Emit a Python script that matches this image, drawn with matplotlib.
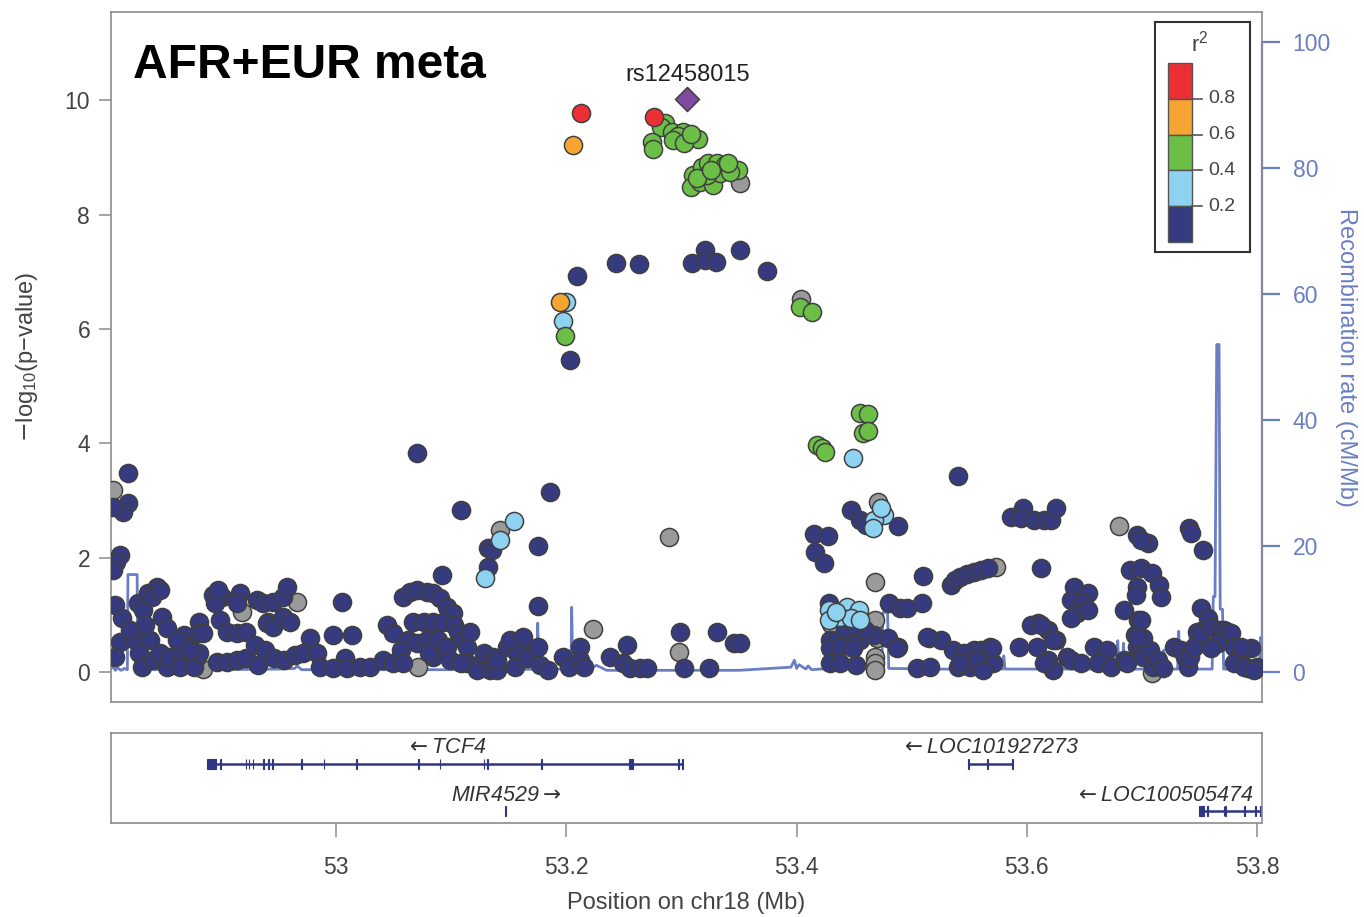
#!/usr/bin/env python3
"""Regional association plot (LocusZoom style) for the TCF4 locus, AFR+EUR meta."""

import matplotlib
matplotlib.use("Agg")
import matplotlib.pyplot as plt
from matplotlib.patches import Rectangle

plt.rcParams["font.family"] = ["Liberation Sans", "DejaVu Sans"]

# --- association results (position in Mb, -log10 p), grouped by LD r2 bin ---
lead_pos = [53.305]
lead_p = [10.02]
lead_name = "rs12458015"

red_pos = [53.213, 53.276]
red_p = [9.77, 9.70]

orange_pos = [53.206, 53.194]
orange_p = [9.21, 6.47]

green_pos = [53.286, 53.282, 53.292, 53.301, 53.297, 53.314, 53.293, 53.302, 53.274, 53.275, 53.308,
             53.310, 53.318, 53.323, 53.331, 53.338, 53.349, 53.308, 53.316, 53.327, 53.333, 53.322,
             53.342, 53.313, 53.326, 53.340,
             53.199, 53.403, 53.413, 53.418, 53.422, 53.425, 53.455, 53.462, 53.458, 53.462]
green_p = [9.60, 9.53, 9.44, 9.44, 9.37, 9.32, 9.30, 9.25, 9.27, 9.14, 9.41,
           8.69, 8.83, 8.90, 8.90, 8.86, 8.78, 8.48, 8.57, 8.51, 8.72, 8.69,
           8.74, 8.64, 8.78, 8.90,
           5.87, 6.38, 6.29, 3.97, 3.92, 3.85, 4.53, 4.51, 4.18, 4.21]

lblue_pos = [53.200, 53.197, 53.449, 53.129, 53.142, 53.154, 53.476, 53.467, 53.466, 53.473,
             53.428, 53.444, 53.454, 53.438, 53.447, 53.455, 53.428, 53.434]
lblue_p = [6.47, 6.14, 3.74, 1.64, 2.31, 2.64, 2.74, 2.66, 2.52, 2.87,
           1.08, 1.14, 1.08, 0.96, 0.94, 0.91, 0.91, 1.05]

grey_pos = [53.351, 53.404, 52.806, 52.966, 52.918, 52.941, 53.142, 53.289, 53.223, 53.298,
            53.471, 53.468, 53.468, 53.468, 53.468, 53.468, 53.680, 53.573, 53.071, 53.709,
            53.430, 53.470, 52.884]
grey_p = [8.55, 6.52, 3.18, 1.22, 1.05, 0.87, 2.48, 2.36, 0.75, 0.35,
          2.97, 1.57, 0.91, 0.26, 0.16, 0.03, 2.55, 1.84, 0.09, -0.02,
          0.85, 0.60, 0.05]

navy_pos = [
    # upper arch
    53.209, 53.243, 53.263, 53.309, 53.320, 53.320, 53.330, 53.351, 53.374, 53.203,
    # scattered middle
    52.819, 52.819, 52.815, 52.806, 52.812, 52.809, 52.806, 53.070, 53.108, 53.092,
    53.132, 53.132, 53.135, 53.186, 53.175, 53.175, 53.540, 53.447, 53.455, 53.460,
    53.488, 53.415, 53.427, 53.416, 53.424, 53.586, 53.597, 53.595, 53.606, 53.615,
    53.621, 53.625, 53.696, 53.705, 53.741, 53.743, 53.753, 53.699,
    # 1 - 2 band, right half
    53.510, 53.534, 53.538, 53.542, 53.548, 53.554, 53.560, 53.566, 53.612, 53.690,
    53.699, 53.709, 53.715, 53.696, 53.695, 53.717, 53.684, 53.697, 53.641, 53.653,
    53.638, 53.649, 53.644, 53.638, 53.653, 53.751, 53.757, 53.753, 53.748, 53.480,
    53.490, 53.496, 53.509, 53.428, 53.610, 53.618, 53.625,
    # left cluster
    52.828, 52.832, 52.836, 52.844, 52.840, 52.847, 52.808, 52.814, 52.812, 52.808,
    52.825, 52.838, 52.849, 52.853, 52.829, 52.831, 52.841, 52.853, 52.847, 52.855,
    52.866, 52.868, 52.873, 52.881, 52.880, 52.884, 52.879, 52.864, 52.876, 52.862,
    52.881, 52.873, 52.821, 52.834,
    52.893, 52.901, 52.895, 52.897, 52.916, 52.914, 52.931, 52.936, 52.945, 52.954,
    52.957, 52.899, 52.905, 52.914, 52.922, 52.940, 52.945, 52.954, 52.960, 52.896,
    52.905, 52.914, 52.922, 52.929, 52.938, 52.946, 52.955, 52.964, 52.932,
    # 53.0 - 53.14
    52.977, 52.971, 52.983, 52.986, 52.997, 53.014, 53.005, 53.008, 52.997, 53.009,
    53.021, 53.029, 53.041, 53.049, 53.044, 53.049, 53.058, 53.064, 53.070, 53.079,
    53.084, 53.090, 53.096, 53.101, 53.067, 53.076, 53.084, 53.093, 53.102, 53.106,
    53.110, 53.114, 53.062, 53.070, 53.079, 53.088, 53.096, 53.084, 53.099, 53.114,
    53.128, 53.122, 53.116, 53.128, 53.136, 53.134, 53.056, 53.058, 53.081, 53.108,
    53.140,
    # 53.14 - 53.35 bottom
    53.148, 53.160, 53.157, 53.140, 53.155, 53.166, 53.175, 53.177, 53.184, 53.197,
    53.202, 53.212, 53.212, 53.215, 53.151, 53.162, 53.238, 53.253, 53.249, 53.255,
    53.264, 53.270, 53.299, 53.302, 53.324, 53.331, 53.346, 53.351,
    # 53.42 - 53.57 bottom
    53.429, 53.435, 53.447, 53.455, 53.467, 53.479, 53.488, 53.429, 53.438, 53.449,
    53.429, 53.438, 53.452, 53.505, 53.516, 53.515, 53.525, 53.536, 53.545, 53.554,
    53.551, 53.540, 53.487, 53.513, 53.560, 53.568, 53.571, 53.542, 53.442, 53.459,
    53.451,
    # 53.55 - 53.80 bottom
    53.557, 53.562, 53.570, 53.593, 53.609, 53.618, 53.623, 53.615, 53.635, 53.638,
    53.647, 53.658, 53.670, 53.662, 53.673, 53.684, 53.687, 53.696, 53.701, 53.701,
    53.707, 53.710, 53.714, 53.718, 53.694, 53.701, 53.696, 53.699, 53.728, 53.734,
    53.737, 53.740, 53.742, 53.745, 53.751, 53.760, 53.768, 53.771, 53.775, 53.777,
    53.766, 53.780, 53.760, 53.786, 53.795, 53.780, 53.792, 53.800, 53.789, 53.797,
    53.786, 53.623, 53.604, 53.612,
]
navy_p = [
    6.92, 7.15, 7.13, 7.15, 7.38, 7.20, 7.17, 7.38, 7.01, 5.45,
    3.48, 2.95, 2.80, 2.88, 2.05, 1.92, 1.78, 3.83, 2.83, 1.70,
    1.84, 2.17, 2.13, 3.15, 2.20, 1.15, 3.43, 2.83, 2.66, 2.57,
    2.55, 2.41, 2.38, 2.10, 1.91, 2.71, 2.87, 2.69, 2.66, 2.66,
    2.66, 2.87, 2.40, 2.26, 2.52, 2.43, 2.13, 2.31,
    1.68, 1.52, 1.61, 1.66, 1.71, 1.75, 1.78, 1.82, 1.82, 1.78,
    1.82, 1.73, 1.52, 1.49, 1.35, 1.31, 1.08, 0.91, 1.49, 1.38,
    1.26, 1.21, 1.03, 0.94, 1.08, 1.12, 0.94, 0.73, 0.70, 1.21,
    1.12, 1.12, 1.21, 1.21, 0.86, 0.73, 0.56,
    1.21, 1.08, 1.38, 1.49, 1.31, 1.43, 1.17, 0.94, 0.52, 0.26,
    0.56, 0.56, 0.96, 0.77, 0.33, 0.09, 0.21, 0.09, 0.33, 0.26,
    0.33, 0.65, 0.44, 0.87, 0.68, 0.68, 0.26, 0.09, 0.09, 0.56,
    0.33, 0.38, 0.73, 0.82,
    1.35, 1.31, 1.21, 1.43, 1.38, 1.21, 1.26, 1.21, 1.22, 1.31,
    1.49, 0.91, 0.70, 0.68, 0.70, 0.86, 0.79, 0.96, 0.87, 0.17,
    0.17, 0.21, 0.24, 0.47, 0.38, 0.24, 0.21, 0.30, 0.12,
    0.59, 0.33, 0.33, 0.09, 0.65, 0.65, 1.22, 0.24, 0.07, 0.07,
    0.09, 0.09, 0.21, 0.16, 0.82, 0.68, 1.31, 1.40, 1.43, 1.40,
    1.38, 1.29, 1.14, 1.03, 0.87, 0.87, 0.87, 0.87, 0.82, 0.70,
    0.56, 0.44, 0.56, 0.51, 0.56, 0.56, 0.44, 0.26, 0.21, 0.16,
    0.26, 0.03, 0.70, 0.33, 0.26, 0.03, 0.38, 0.16, 0.33, 0.16,
    0.03,
    0.44, 0.51, 0.33, 0.21, 0.09, 0.24, 0.44, 0.12, 0.03, 0.26,
    0.09, 0.44, 0.21, 0.09, 0.56, 0.61, 0.26, 0.47, 0.16, 0.07,
    0.07, 0.07, 0.70, 0.07, 0.07, 0.70, 0.51, 0.51,
    0.56, 0.56, 0.59, 0.56, 0.65, 0.59, 0.44, 0.42, 0.44, 0.42,
    0.16, 0.16, 0.12, 0.07, 0.09, 0.59, 0.56, 0.38, 0.33, 0.38,
    0.09, 0.09, 0.42, 0.61, 0.38, 0.44, 0.16, 0.16, 0.77, 0.73,
    0.82,
    0.21, 0.03, 0.42, 0.44, 0.44, 0.21, 0.03, 0.16, 0.26, 0.21,
    0.16, 0.44, 0.38, 0.16, 0.09, 0.21, 0.16, 0.44, 0.38, 0.26,
    0.38, 0.09, 0.21, 0.07, 0.65, 0.59, 0.61, 0.91, 0.44, 0.38,
    0.26, 0.09, 0.26, 0.44, 0.68, 0.79, 0.73, 0.73, 0.70, 0.68,
    0.51, 0.44, 0.42, 0.33, 0.42, 0.16, 0.07, 0.09, 0.09, 0.03,
    0.44, 0.56, 0.82, 0.82,
]

# --- recombination rate (cM/Mb) ---
recomb_pos = [52.804, 52.806, 52.808, 52.810, 52.813, 52.816, 52.8185, 52.819, 52.827, 52.8275,
              52.850, 52.900, 52.950, 52.964, 52.966, 52.970, 53.000, 53.050, 53.100, 53.150,
              53.1745, 53.175, 53.176, 53.204, 53.2045, 53.2055, 53.220, 53.226, 53.235, 53.300,
              53.350, 53.395, 53.398, 53.400, 53.402, 53.408, 53.410, 53.413, 53.420, 53.474,
              53.475, 53.479, 53.480, 53.520, 53.579, 53.580, 53.581, 53.630, 53.631, 53.632,
              53.660, 53.661, 53.662, 53.678, 53.679, 53.680, 53.683, 53.684, 53.685, 53.718,
              53.719, 53.720, 53.731, 53.732, 53.733, 53.741, 53.742, 53.743, 53.761, 53.762,
              53.7635, 53.765, 53.767, 53.768, 53.770, 53.771, 53.790, 53.802, 53.803, 53.804]
recomb_rate = [0.5, 1.0, 0.3, 0.7, 0.3, 0.6, 0.4, 15.5, 15.5, 0.5,
               0.4, 0.4, 0.5, 0.6, 1.0, 0.4, 0.4, 0.4, 0.4, 0.4,
               0.5, 7.8, 0.5, 0.5, 10.3, 0.5, 0.4, 1.1, 0.3, 0.3,
               0.3, 0.8, 1.9, 0.6, 1.2, 0.5, 1.0, 0.4, 0.5, 0.6,
               9.5, 9.5, 0.6, 0.5, 0.5, 2.6, 0.5, 0.5, 4.0, 0.5,
               0.5, 4.0, 0.5, 0.5, 5.0, 0.5, 0.5, 4.6, 0.5, 0.5,
               3.5, 0.5, 0.5, 6.5, 0.5, 0.5, 7.0, 0.5, 0.5, 12.0,
               12.0, 52.0, 52.0, 10.0, 10.0, 0.5, 0.5, 0.5, 5.5, 0.5]

# --- genes ---
tcf4_exons = [(52.8881, 52.8953), (52.8988, 52.8998), (52.9213, 52.9220), (52.9238, 52.9245),
              (52.9273, 52.9280), (52.9366, 52.9373), (52.9408, 52.9415), (52.9444, 52.9451),
              (52.9693, 52.9700), (52.9890, 52.9897), (53.0174, 53.0181), (53.0709, 53.0716),
              (53.0898, 53.0905), (53.1280, 53.1287), (53.1308, 53.1315), (53.1779, 53.1786),
              (53.2545, 53.2580), (53.2971, 53.2978), (53.3008, 53.3015)]
loc27273_exons = [(53.5487, 53.5499), (53.5657, 53.5664), (53.5871, 53.5878)]
loc05474_exons = [(53.7500, 53.7540), (53.7568, 53.7575), (53.7710, 53.7717), (53.7720, 53.7727),
                  (53.7890, 53.7897), (53.7980, 53.7987), (53.8025, 53.8032)]
mir_exons = [(53.1470, 53.1475)]
LEFT = r"$\leftarrow$"
RIGHT = r"$\rightarrow$"
genes = [
    (LEFT + "TCF4", 52.8881, 53.3015, tcf4_exons, 0),
    (LEFT + "LOC101927273", 53.5487, 53.5878, loc27273_exons, 0),
    ("MIR4529" + RIGHT, 53.1470, 53.1475, mir_exons, 1),
    (LEFT + "LOC100505474", 53.7500, 53.8100, loc05474_exons, 1),
]

xlim = (52.8043, 53.8043)
colors = {
    "grey": "#9A9A9A", "navy": "#363A7E", "lblue": "#8ED2F2", "green": "#6BBE46",
    "orange": "#F7A532", "red": "#EC2F35", "lead": "#7D4CA2",
}
recomb_color = "#6A7EC4"
frame_color = "#8C8C8C"
text_color = "#444444"

fig = plt.figure(figsize=(13.64, 9.17), dpi=100)

# ---------- association panel ----------
ax = fig.add_axes([0.0814, 0.2345, 0.8438, 0.7524])
ax2 = ax.twinx()
ax.set_zorder(ax2.get_zorder() + 1)
ax.patch.set_visible(False)

units_per_100cm = 11.014
ax.set_xlim(*xlim)
ax.set_ylim(-0.52, 11.54)
ax2.set_ylim(-0.52 * 100 / units_per_100cm, 11.54 * 100 / units_per_100cm)

ax2.plot(recomb_pos, recomb_rate, color=recomb_color, lw=2.0, zorder=1)

sc = dict(s=170, edgecolors="#404040", linewidths=1.1, zorder=3)
ax.scatter(grey_pos, grey_p, c=colors["grey"], **sc)
ax.scatter(navy_pos, navy_p, c=colors["navy"], **sc)
ax.scatter(lblue_pos, lblue_p, c=colors["lblue"], **sc)
ax.scatter(green_pos, green_p, c=colors["green"], **sc)
ax.scatter(orange_pos, orange_p, c=colors["orange"], **sc)
ax.scatter(red_pos, red_p, c=colors["red"], **sc)
ax.scatter(lead_pos, lead_p, c=colors["lead"], marker="D", s=150, edgecolors="#404040",
           linewidths=1.1, zorder=4)
ax.text(lead_pos[0], lead_p[0] + 0.22, lead_name, ha="center", va="bottom", fontsize=17,
        color="#222222")

ax.text(0.019, 0.955, "AFR+EUR meta", transform=ax.transAxes, ha="left", va="top",
        fontsize=34.5, fontweight="bold", color="black")

for s in ax.spines.values():
    s.set_color(frame_color)
    s.set_linewidth(1.2)
ax.set_xticks([])
ax.set_yticks([0, 2, 4, 6, 8, 10])
ax.tick_params(axis="y", colors=text_color, labelsize=16.5, length=9, width=1.1, pad=6)
ax.tick_params(axis="y", which="both", color=frame_color)
ax.set_ylabel(r"$-\mathregular{log_{10}(p{-}value)}$", fontsize=17, color=text_color, labelpad=18)

for name, s in ax2.spines.items():
    s.set_visible(name == "right")
ax2.spines["right"].set_color(recomb_color)
ax2.spines["right"].set_linewidth(1.6)
ax2.spines["right"].set_bounds(0, 100)
ax2.set_yticks([0, 20, 40, 60, 80, 100])
ax2.tick_params(axis="y", colors=recomb_color, labelsize=16.5, length=13, width=1.6, pad=9)
ax2.set_ylabel("Recombination rate (cM/Mb)", fontsize=17, color=recomb_color, rotation=270,
               labelpad=19)

# ---------- r2 legend ----------
leg = fig.add_axes([0.8468, 0.7252, 0.0696, 0.2508])
leg.set_xlim(0, 95)
leg.set_ylim(230, 0)
leg.set_xticks([])
leg.set_yticks([])
for s in leg.spines.values():
    s.set_color("#333333")
    s.set_linewidth(1.5)
leg_bins = [colors["red"], colors["orange"], colors["green"], colors["lblue"], colors["navy"]]
leg_labels = ["0.8", "0.6", "0.4", "0.2"]
seg = (220 - 41) / len(leg_bins)
for i, col in enumerate(leg_bins):
    leg.add_patch(Rectangle((13, 41 + i * seg), 24, seg, facecolor=col, edgecolor="#555555", lw=1.0))
for i, lab in enumerate(leg_labels):
    yy = 41 + (i + 1) * seg
    leg.plot([37, 47], [yy, yy], color="#555555", lw=1.2)
    leg.text(53, yy, lab, ha="left", va="center", fontsize=14, color=text_color)
leg.text(45, 34, r"$\mathregular{r^2}$", ha="center", va="bottom", fontsize=16, color=text_color)

# ---------- gene panel ----------
gx = fig.add_axes([0.0814, 0.1025, 0.8438, 0.0981])
gx.set_xlim(*xlim)
gx.set_ylim(0, 1)
gene_navy = "#2F3683"
row_y = [0.655, 0.135]
label_y = [0.835, 0.31]
for name, start, end, exons, row in genes:
    y = row_y[row]
    if end - start > 0.002:
        gx.plot([start, end], [y, y], color=gene_navy, lw=1.8, solid_capstyle="butt")
    for a, b in exons:
        gx.add_patch(Rectangle((a, y - 0.055), b - a, 0.11, facecolor=gene_navy,
                               edgecolor=gene_navy, lw=0.8))
    cx = min(max((start + end) / 2, xlim[0] + 0.1), xlim[1] - 0.085)
    gx.text(cx, label_y[row], name, ha="center", va="center", fontsize=15.5, style="italic",
            color="#333333")

for s in gx.spines.values():
    s.set_color(frame_color)
    s.set_linewidth(1.2)
gx.set_yticks([])
gx.set_xticks([53.0, 53.2, 53.4, 53.6, 53.8])
gx.set_xticklabels(["53", "53.2", "53.4", "53.6", "53.8"])
gx.tick_params(axis="x", colors=text_color, labelsize=16.5, length=10, width=1.1, pad=14)
gx.tick_params(axis="x", color=frame_color)
gx.set_xlabel("Position on chr18 (Mb)", fontsize=17, color=text_color, labelpad=9)

fig.savefig("out.png", dpi=100)
